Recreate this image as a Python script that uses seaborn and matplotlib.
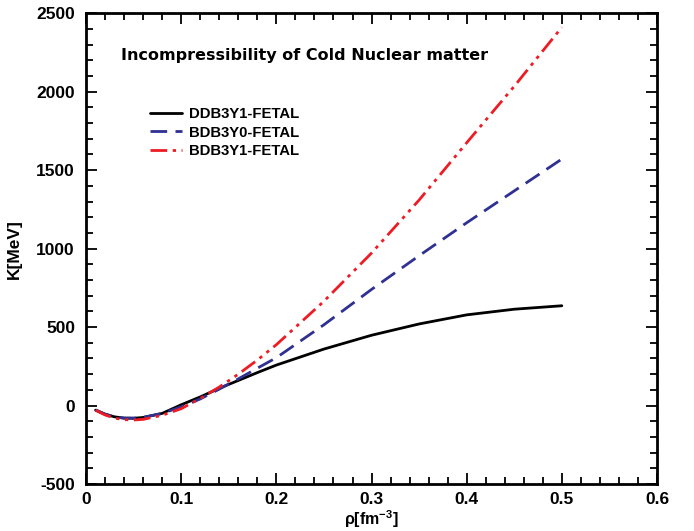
import numpy as np
import pandas as pd
import matplotlib
matplotlib.use("Agg")
import matplotlib.pyplot as plt
from matplotlib.ticker import MultipleLocator, FuncFormatter
import seaborn as sns

# densite (fm^-3)
rho = [0.01, 0.02, 0.03, 0.04, 0.05, 0.06, 0.08, 0.10, 0.12, 0.14,
       0.16, 0.18, 0.20, 0.25, 0.30, 0.35, 0.40, 0.45, 0.50]

# K [MeV]
k_ddb3y1 = [-29, -55, -72, -80, -81, -76, -50, 5, 55, 110,
            160, 210, 258, 360, 448, 520, 578, 614, 636]
k_bdb3y0 = [-28, -55, -72, -80, -80, -75, -50, -8, 42, 105,
            170, 238, 305, 515, 740, 955, 1165, 1368, 1571]
k_bdb3y1 = [-30, -60, -80, -90, -92, -88, -62, -20, 45, 118,
            200, 290, 388, 665, 972, 1310, 1675, 2035, 2411]

labels = ["DDB3Y1-FETAL", "BDB3Y0-FETAL", "BDB3Y1-FETAL"]
colors = ["black", "#2e3192", "#ed1c24"]
styles = ["-", (0, (6, 3)), (0, (6, 2, 1.2, 2, 1.2, 2))]

sns.set_style("ticks")
plt.rcParams["font.family"] = ["Liberation Sans", "DejaVu Sans"]
plt.rcParams["font.weight"] = "bold"
plt.rcParams["mathtext.fontset"] = "custom"
plt.rcParams["mathtext.rm"] = "Liberation Sans:bold"
plt.rcParams["mathtext.bf"] = "Liberation Sans:bold"
plt.rcParams["axes.unicode_minus"] = False
for key in ["text.color", "axes.labelcolor", "xtick.color", "ytick.color", "axes.edgecolor"]:
    plt.rcParams[key] = "black"

fig = plt.figure(figsize=(6.94, 5.31), dpi=100)
ax = fig.add_axes([0.124, 0.0885, 0.8227, 0.8865])

for vals, lab, col, ls in zip([k_ddb3y1, k_bdb3y0, k_bdb3y1], labels, colors, styles):
    sns.lineplot(x=rho, y=vals, ax=ax, color=col, linestyle=ls, linewidth=2, label=lab)

ax.set_xlim(0, 0.6)
ax.set_ylim(-500, 2500)
ax.xaxis.set_major_locator(MultipleLocator(0.1))
ax.xaxis.set_minor_locator(MultipleLocator(0.02))
ax.yaxis.set_major_locator(MultipleLocator(500))
ax.yaxis.set_minor_locator(MultipleLocator(100))
ax.xaxis.set_major_formatter(FuncFormatter(lambda v, p: "0" if abs(v) < 1e-9 else f"{v:.1f}"))

ax.tick_params(which="both", direction="in", top=True, right=True, width=1.3, labelsize=12.5)
ax.tick_params(which="major", length=8, pad=8)
ax.tick_params(axis="x", which="major", pad=6)
ax.tick_params(which="minor", length=5)
for s in ax.spines.values():
    s.set_linewidth(2)

ax.set_xlabel(r"ρ[fm$^{-3}$]", fontsize=11.5, fontweight="bold")
ax.xaxis.set_label_coords(0.5, -0.0985)
ax.xaxis.label.set_va("bottom")
ax.set_ylabel("K[MeV]", fontsize=12.5, fontweight="bold", labelpad=10)

ax.text(0.037, 2234, "Incompressibility of Cold Nuclear matter", fontsize=11.5,
        fontweight="bold", family="DejaVu Sans", va="center")

ax.legend(loc="upper left", bbox_to_anchor=(0.088, 0.829), frameon=False,
          handlelength=2.15, handletextpad=0.5, labelspacing=0.3,
          borderpad=0.4, prop={"weight": "bold", "size": 10.7})

fig.savefig("out.png", dpi=100)
